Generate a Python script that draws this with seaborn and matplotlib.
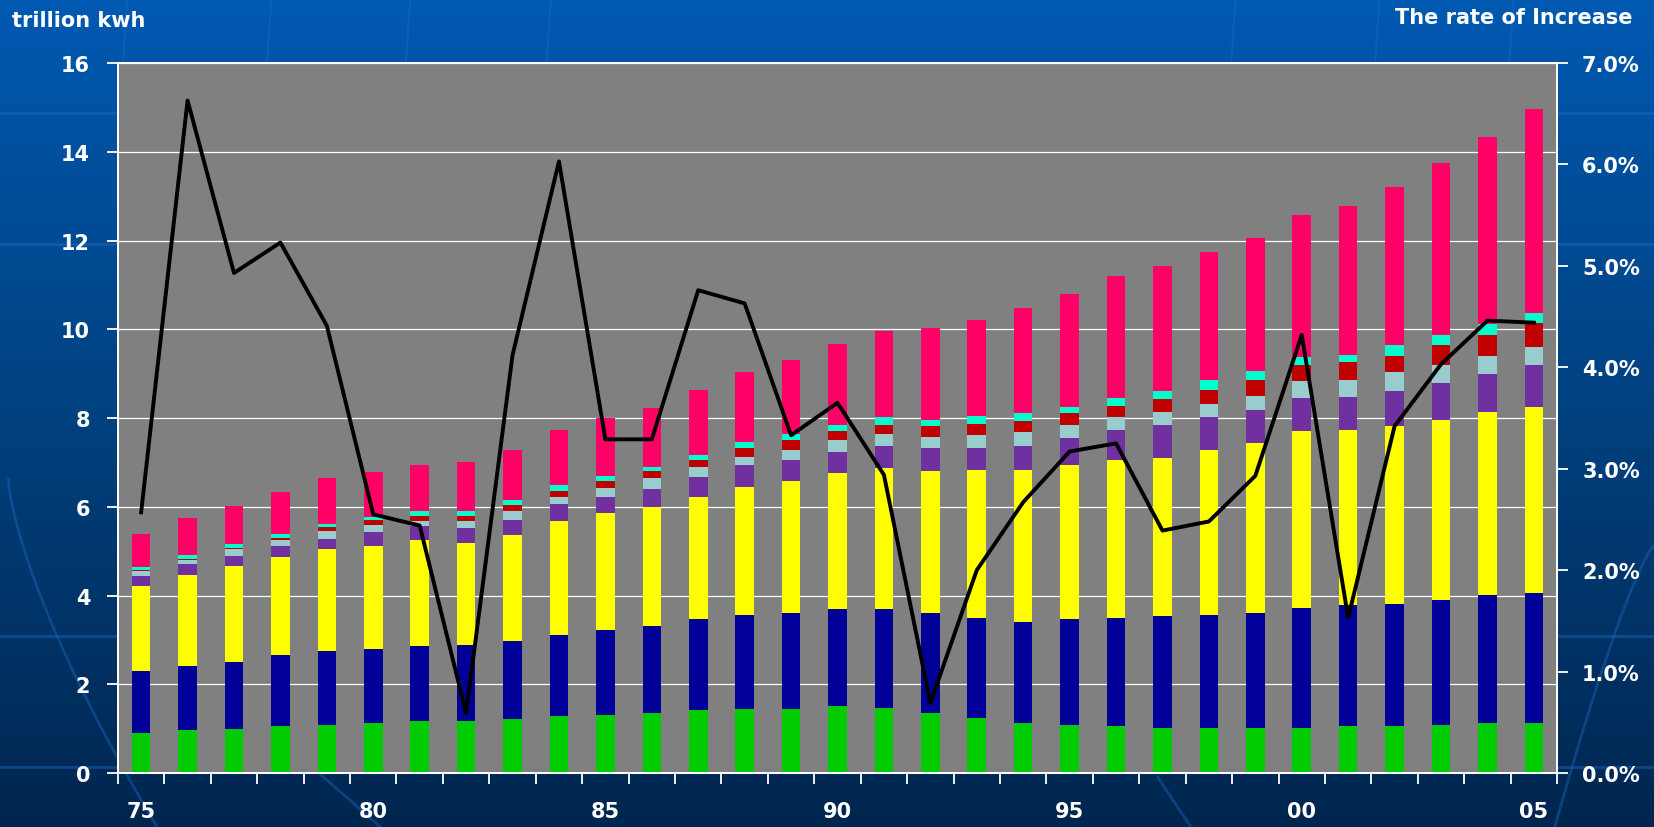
import numpy as np
import matplotlib.pyplot as plt
import seaborn as sns
from matplotlib.ticker import FuncFormatter

# data
years = list(range(1975, 2006))
year_labels = [f'{y % 100:02d}' for y in years]

# stacked segments, bottom to top (trillion kwh)
green = [0.91, 0.97, 0.99, 1.05, 1.08, 1.12, 1.17, 1.17, 1.22, 1.29, 1.31, 1.35, 1.41, 1.44, 1.44, 1.52,
         1.46, 1.35, 1.23, 1.12, 1.08, 1.05, 1.02, 1.02, 1.02, 1.02, 1.05, 1.05, 1.08, 1.12, 1.12]
navy = [1.38, 1.45, 1.52, 1.60, 1.66, 1.67, 1.69, 1.72, 1.75, 1.82, 1.92, 1.97, 2.05, 2.12, 2.17, 2.18,
        2.24, 2.26, 2.26, 2.29, 2.39, 2.44, 2.51, 2.54, 2.59, 2.70, 2.73, 2.75, 2.83, 2.90, 2.94]
yellow = [1.93, 2.05, 2.16, 2.21, 2.30, 2.33, 2.39, 2.30, 2.40, 2.56, 2.63, 2.68, 2.75, 2.88, 2.98, 3.05,
          3.18, 3.19, 3.33, 3.41, 3.46, 3.57, 3.58, 3.72, 3.83, 3.99, 3.95, 4.03, 4.05, 4.12, 4.18]
purple = [0.21, 0.24, 0.21, 0.25, 0.24, 0.30, 0.31, 0.34, 0.34, 0.39, 0.37, 0.40, 0.47, 0.49, 0.46, 0.48,
          0.50, 0.52, 0.51, 0.56, 0.62, 0.67, 0.74, 0.74, 0.74, 0.75, 0.75, 0.78, 0.83, 0.85, 0.95]
light_blue = [0.12, 0.09, 0.16, 0.13, 0.17, 0.17, 0.13, 0.16, 0.20, 0.17, 0.19, 0.25, 0.22, 0.20, 0.22, 0.27,
              0.27, 0.26, 0.28, 0.30, 0.29, 0.29, 0.29, 0.29, 0.31, 0.37, 0.38, 0.42, 0.40, 0.41, 0.42]
dark_red = [0.02, 0.03, 0.03, 0.06, 0.09, 0.12, 0.11, 0.10, 0.12, 0.13, 0.15, 0.15, 0.15, 0.19, 0.23, 0.21,
            0.19, 0.24, 0.25, 0.26, 0.28, 0.26, 0.29, 0.33, 0.36, 0.37, 0.40, 0.36, 0.45, 0.48, 0.54]
cyan = [0.08, 0.08, 0.09, 0.08, 0.07, 0.06, 0.10, 0.11, 0.13, 0.13, 0.13, 0.10, 0.12, 0.15, 0.14, 0.13,
        0.18, 0.13, 0.19, 0.17, 0.13, 0.18, 0.18, 0.21, 0.21, 0.17, 0.17, 0.25, 0.24, 0.23, 0.21]
pink = [0.73, 0.83, 0.86, 0.95, 1.04, 1.02, 1.04, 1.11, 1.11, 1.24, 1.29, 1.32, 1.45, 1.56, 1.67, 1.83,
        1.95, 2.07, 2.16, 2.36, 2.55, 2.73, 2.82, 2.88, 3.00, 3.20, 3.34, 3.57, 3.87, 4.22, 4.60]

# rate of increase (%)
rate = [2.57, 6.63, 4.93, 5.23, 4.41, 2.55, 2.44, 0.59, 4.12, 6.03, 3.29, 3.29, 4.76, 4.63, 3.33, 3.65,
        2.94, 0.69, 2.00, 2.67, 3.17, 3.25, 2.39, 2.48, 2.93, 4.32, 1.53, 3.42, 4.03, 4.46, 4.44]

layers = [green, navy, yellow, purple, light_blue, dark_red, cyan, pink]
colors = ['#00CC00', '#000099', '#FFFF00', '#7030A0', '#99CCCC', '#C00000', '#00FFCC', '#FF0066']

plt.rcParams['font.family'] = ['DejaVu Sans']
plt.rcParams['font.weight'] = 'bold'

fig = plt.figure(figsize=(16.54, 8.28), dpi=100)

# blue slide background with faint globe lines
bg = fig.add_axes([0, 0, 1, 1], zorder=-10)
grad = np.linspace(0, 1, 256).reshape(-1, 1)
bg_cmap = sns.blend_palette(['#0059B1', '#00417F', '#00264F'], as_cmap=True)
bg.imshow(grad, extent=[0, 1, 0, 1], aspect='auto', cmap=bg_cmap, origin='upper')
for yy in [0.862, 0.704, 0.231, 0.0725]:
    bg.axhline(yy, color='#1D6BC8', lw=2, alpha=0.45)
for xx in [0.077, 0.164, 0.248, 0.333, 0.747, 0.834, 0.915]:
    bg.plot([xx, xx - 0.004], [1, 0.88], color='#1D6BC8', lw=1.5, alpha=0.4)
t = np.linspace(0, 1, 50)
bg.plot(0.005 + 0.09 * t ** 1.4, 0.42 - 0.42 * t, color='#1D6BC8', lw=2, alpha=0.4)
bg.plot(0.19 + 0.04 * t, 0.07 - 0.07 * t, color='#1D6BC8', lw=2, alpha=0.4)
bg.plot(0.70 + 0.02 * t, 0.06 - 0.06 * t, color='#1D6BC8', lw=2, alpha=0.4)
bg.plot(1.0 - 0.06 * t ** 0.8, 0.34 - 0.34 * t, color='#1D6BC8', lw=2, alpha=0.4)
bg.set_xlim(0, 1)
bg.set_ylim(0, 1)
bg.axis('off')

ax = fig.add_axes([0.0713, 0.0652, 0.8701, 0.8575])
ax.set_facecolor('#808080')
ax.set_axisbelow(True)
ax.yaxis.grid(True, color='white', lw=0.9)

# stacked bars: draw cumulative heights from the top layer down
tops = np.cumsum(np.array(layers), axis=0)
for i in reversed(range(len(layers))):
    sns.barplot(x=year_labels, y=tops[i], color=colors[i], saturation=1, width=0.4,
                linewidth=0, ax=ax, zorder=2)

ax.set_ylim(0, 16)
ax.set_yticks(range(0, 17, 2))
ax.set_xlim(-0.5, len(years) - 0.5)
ax.set_xticks(range(0, len(years), 5))
ax.set_xticklabels(year_labels[::5])
ax.set_xticks(np.arange(-0.5, len(years), 1), minor=True)
ax.set_xlabel('')
ax.set_ylabel('')

ax2 = ax.twinx()
sns.lineplot(x=np.arange(len(years)), y=rate, color='black', lw=2.8, ax=ax2)
ax2.set_ylim(0, 7)
ax2.set_yticks(range(0, 8))
ax2.yaxis.set_major_formatter(FuncFormatter(lambda v, p: f'{v:.1f}%'))
ax2.set_xlim(-0.5, len(years) - 0.5)

for a in (ax, ax2):
    for s in a.spines.values():
        s.set_color('white')
        s.set_linewidth(1.3)

ax.tick_params(axis='y', colors='white', labelcolor='white', length=8, width=1.3,
               labelsize=15, pad=12)
ax.tick_params(axis='x', which='major', length=0, labelcolor='white', labelsize=15, pad=20)
ax.tick_params(axis='x', which='minor', colors='white', length=8, width=1.3)
ax2.tick_params(axis='y', colors='white', labelcolor='white', length=8, width=1.3,
                labelsize=15, pad=10)

fig.text(0.007, 0.975, 'trillion kwh', color='white', fontsize=15, fontweight='bold',
         ha='left', va='center')
fig.text(0.987, 0.978, 'The rate of Increase', color='white', fontsize=15, fontweight='bold',
         ha='right', va='center')

fig.savefig('out.png', dpi=100)
